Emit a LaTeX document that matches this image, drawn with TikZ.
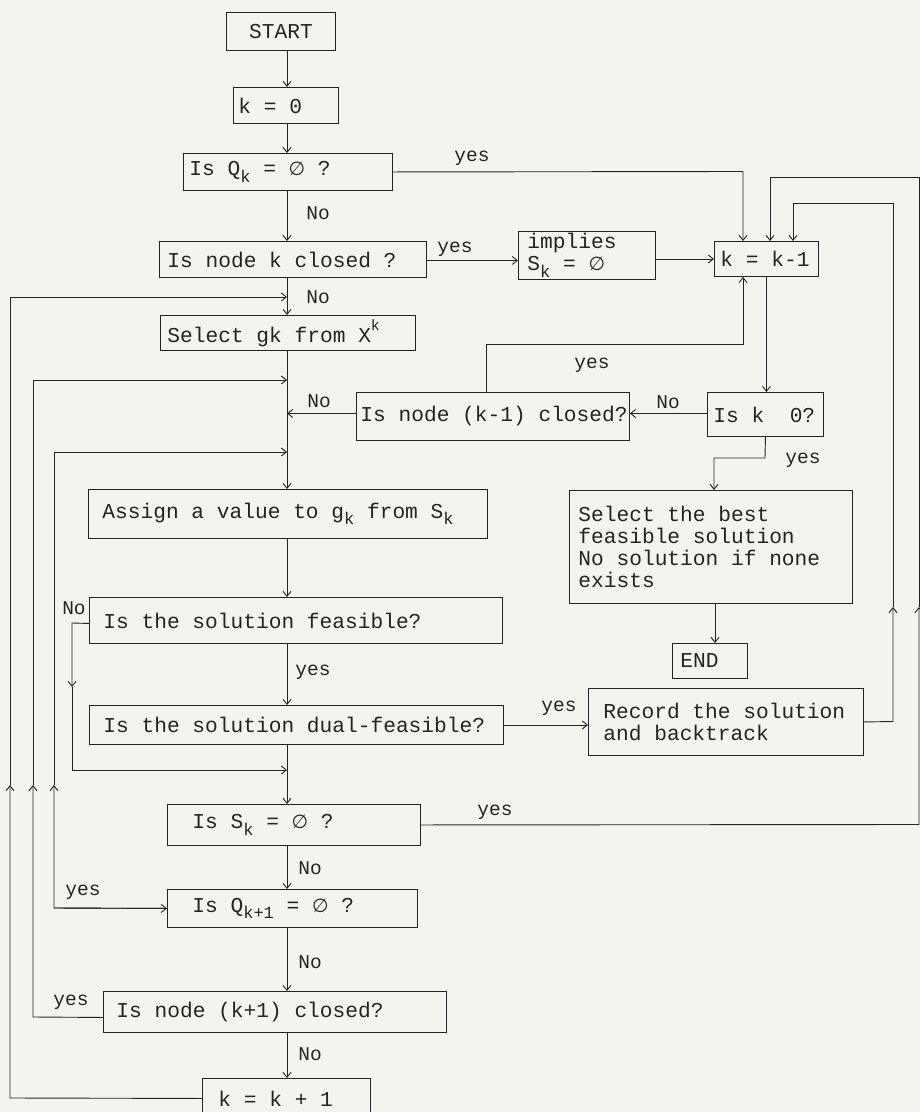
\documentclass[tikz,border=0pt]{standalone}
\usepackage{fontspec}
\setmainfont{Liberation Mono}
\newfontfamily\esfont{DejaVu Sans}
\usetikzlibrary{arrows.meta}
\definecolor{ink}{RGB}{35,35,35}
\definecolor{paper}{RGB}{244,244,238}
\newcommand\es{{\esfont\fontsize{19}{19}\selectfont ∅}}
\newcommand\sbs[1]{\raisebox{-0.3em}{\fontsize{17}{17}\selectfont #1}}
\newcommand\sps[1]{\raisebox{0.55em}{\fontsize{15}{15}\selectfont #1}}
\newcommand\widesp{\spaceskip=0.6em\relax}
\begin{document}
\begin{tikzpicture}[x=1pt,y=-1pt,
  box/.style={draw=ink, text=ink, line width=0.9pt, anchor=north west, inner ysep=0pt, align=left,
    font=\fontsize{21.2}{22}\selectfont, execute at begin node=\widesp},
  lab/.style={text=ink, inner sep=0pt, font=\fontsize{19.5}{20}\selectfont},
  arr/.style={-{Straight Barb[length=5pt,width=8pt]}},
  line/.style={draw=ink, line width=0.9pt}
]
\fill[paper] (0,0) rectangle (920,1112);
\useasboundingbox (0,0) rectangle (920,1112);

% boxes
\node[box, align=center, inner xsep=17pt, text width=75pt, minimum height=38pt] (start) at (226,12) {\mbox{START}};
\node[box, inner xsep=5pt, text width=95pt, minimum height=36pt] (k0) at (233,87) {\mbox{k = 0}};
\node[box, inner xsep=6pt, text width=197pt, minimum height=37pt] (qk) at (183,153) {\mbox{Is Q\sbs{k} = \es{} ?}};
\node[box, inner xsep=8pt, text width=251pt, minimum height=36pt] (nodek) at (159,241) {\mbox{Is node k closed ?}};
\node[box, inner xsep=9pt, text width=119pt, minimum height=48pt] (implies) at (518,231) {\mbox{implies}\\\mbox{S\sbs{k} = \es}};
\node[box, inner xsep=6pt, text width=92pt, minimum height=35pt] (km1) at (714,241) {\mbox{k = k-1}};
\node[box, inner xsep=7pt, text width=241pt, minimum height=35pt] (selg) at (160,315) {\mbox{Select gk from X\sps{k}}};
\node[box, inner xsep=4pt, text width=265pt, minimum height=48pt] (nodekm1) at (356,392) {\mbox{Is node (k-1) closed?}};
\node[box, inner xsep=6pt, text width=104pt, minimum height=44pt] (isk0) at (707,392) {\mbox{Is k\ \ 0?}};
\node[box, inner xsep=14pt, text width=371pt, minimum height=49pt] (assign) at (88,489) {\mbox{Assign a value to g\sbs{k} from S\sbs{k}}};
\node[box, inner xsep=9pt, text width=265pt, minimum height=113pt] (best) at (569,490) {\mbox{Select the best}\\\mbox{feasible solution}\\\mbox{No solution if none}\\\mbox{exists}};
\node[box, inner xsep=8pt, text width=59pt, minimum height=35pt] (end) at (672,643) {\mbox{END}};
\node[box, inner xsep=14pt, text width=385pt, minimum height=46pt] (feas) at (89,597) {\mbox{Is the solution feasible?}};
\node[box, inner xsep=14pt, text width=386pt, minimum height=39pt] (dual) at (89,705) {\mbox{Is the solution dual-feasible?}};
\node[box, inner xsep=15pt, text width=245pt, minimum height=67pt] (record) at (588,688) {\mbox{Record the solution}\\\mbox{and backtrack}};
\node[box, inner xsep=25pt, text width=203pt, minimum height=41pt] (sk) at (167,804) {\mbox{Is S\sbs{k} = \es{} ?}};
\node[box, inner xsep=25pt, text width=200pt, minimum height=38pt] (qk1) at (167,889) {\mbox{Is Q\sbs{k+1} = \es{} ?}};
\node[box, inner xsep=13pt, text width=317pt, minimum height=41pt] (nodek1) at (103,991) {\mbox{Is node (k+1) closed?}};
\node[box, inner xsep=16pt, text width=136pt, minimum height=40pt] (kp1) at (202,1078) {\mbox{k = k + 1}};

% helper coordinates
\coordinate (M) at (287,0);
\coordinate (E) at (715,0);
\coordinate (M1) at (287,297);
\coordinate (M2) at (287,380);
\coordinate (M3) at (287,452);
\coordinate (M4) at (287,770);
\coordinate (L1a) at (10,1098);
\coordinate (L1m) at (10,785);
\coordinate (L1t) at (10,297);
\coordinate (L2a) at (33,1017);
\coordinate (L2m) at (33,785);
\coordinate (L2t) at (33,380);
\coordinate (L3a) at (54,908);
\coordinate (L3m) at (54,785);
\coordinate (L3t) at (54,452);
\coordinate (L4a) at (72,623);
\coordinate (L4m) at (72,687);
\coordinate (L4b) at (72,770);
\coordinate (Q1) at (743,171.5);
\coordinate (Y1) at (486,344);
\coordinate (Y2) at (743,344);
\coordinate (K1) at (765,458);
\coordinate (K2) at (714,458);
\coordinate (R1a) at (893,721.5);
\coordinate (R1m) at (893,607);
\coordinate (R1t) at (893,203);
\coordinate (R1e) at (793,203);
\coordinate (R2a) at (919,824.5);
\coordinate (R2m) at (919,607);
\coordinate (R2t) at (919,177);
\coordinate (R2e) at (770,177);

% main flow
\draw[line,arr] (start.south -| M) -- (k0.north -| M);
\draw[line,arr] (k0.south -| M) -- (qk.north -| M);
\draw[line,arr] (qk.south -| M) -- (nodek.north -| M);
\draw[line,arr] (nodek.south -| M) -- (selg.north -| M);
\draw[line,arr] (selg.south -| M) -- (assign.north -| M);
\draw[line,arr] (assign.south -| M) -- (feas.north -| M);
\draw[line,arr] (feas.south -| M) -- (dual.north -| M);
\draw[line,arr] (dual.south -| M) -- (sk.north -| M);
\draw[line,arr] (sk.south -| M) -- (qk1.north -| M);
\draw[line,arr] (qk1.south -| M) -- (nodek1.north -| M);
\draw[line,arr] (nodek1.south -| M) -- (kp1.north -| M);

% left loops
\draw[line,arr] (kp1.west) -- (L1a) -- (L1m);
\draw[line,arr] (L1m) -- (L1t) -- (M1);
\draw[line,arr] ([yshift=-5.5pt]nodek1.west) -- (L2a) -- (L2m);
\draw[line,arr] (L2m) -- (L2t) -- (M2);
\draw[line,arr] (qk1.west) -- (L3a) -- (L3m);
\draw[line,arr] (L3a) -- (qk1.west);
\draw[line,arr] (L3m) -- (L3t) -- (M3);
\draw[line,arr] ([yshift=-3pt]feas.west) -- (L4a) -- (L4m);
\draw[line,arr] (L4m) -- (L4b) -- (M4);

% middle / right
\draw[line,arr] ([yshift=3pt]nodekm1.west) -- ([yshift=3pt]nodekm1.west -| M);
\draw[line,arr] ([yshift=1pt]isk0.west) -- ([yshift=1pt]isk0.west -| nodekm1.east);
\draw[line,arr] (qk.east) -- (Q1) -- (Q1 |- km1.north);
\draw[line,arr] ([yshift=-1pt]nodek.east) -- ([yshift=-1pt]nodek.east -| implies.west);
\draw[line,arr] (km1.west -| implies.east) -- (km1.west);
\draw[line,arr] (km1.south) -- (km1.south |- isk0.north);
\draw[line,arr] (nodekm1.north -| Y1) -- (Y1) -- (Y2) -- (Y2 |- km1.south);
\draw[line,arr] (isk0.south) -- (K1) -- (K2) -- (K2 |- best.north);
\draw[line,arr] (best.south -| E) -- (end.north -| E);
\draw[line,arr] (dual.east) -- (dual.east -| record.west);
\draw[line,arr] (record.east) -- (R1a) -- (R1m);
\draw[line,arr] (R1m) -- (R1t) -- (R1e) -- (R1e |- km1.north);
\draw[line,arr] (sk.east) -- (R2a) -- (R2m);
\draw[line,arr] (R2m) -- (R2t) -- (R2e) -- (R2e |- km1.north);

% labels
\node[lab] (l1) at (318,213) {No};
\node[lab] (l2) at (472,158) {yes};
\node[lab] (l3) at (455,249) {yes};
\node[lab] (l4) at (318,297) {No};
\node[lab] (l5) at (592,365) {yes};
\node[lab] (l6) at (319,401) {No};
\node[lab] (l7) at (668,402) {No};
\node[lab] (l8) at (803,460) {yes};
\node[lab] (l9) at (74,608) {No};
\node[lab] (l10) at (313,672) {yes};
\node[lab] (l11) at (559,708) {yes};
\node[lab] (l12) at (495,812) {yes};
\node[lab] (l13) at (310,868) {No};
\node[lab] (l14) at (83,892) {yes};
\node[lab] (l15) at (310,962) {No};
\node[lab] (l16) at (71,1002) {yes};
\node[lab] (l17) at (310,1054) {No};
\end{tikzpicture}
\end{document}
